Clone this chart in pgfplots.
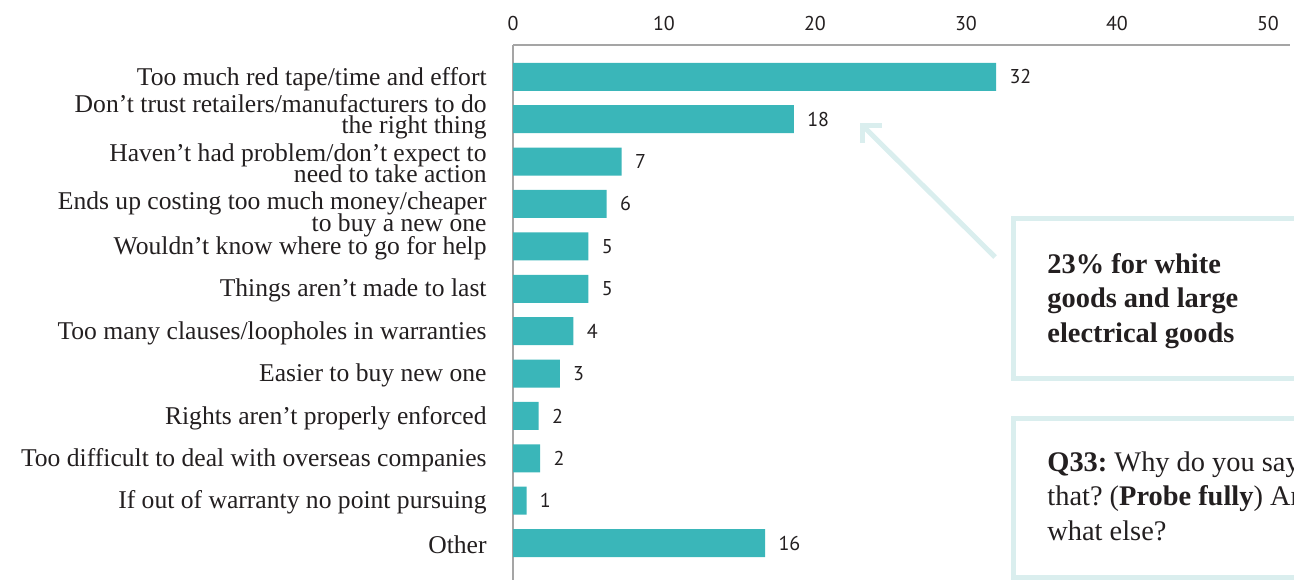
\documentclass[border=0pt]{standalone}
\usepackage{pgfplots}
\pgfplotsset{compat=1.18}
\usepackage{pgfplotstable}
\usepackage{fontspec}
\setmainfont{Liberation Serif}
\newfontfamily\numfont{PT Sans}
\definecolor{barc}{RGB}{58,182,185}
\definecolor{boxc}{RGB}{218,238,238}
\definecolor{txt}{RGB}{35,31,32}
\definecolor{axc}{RGB}{165,165,165}
\newcommand{\two}[3]{\raisebox{#3}[0pt][0pt]{\begin{tabular}[c]{@{}r@{}}#1\\[-1.2pt]#2\end{tabular}}}

\pgfplotstableread{
i v lab
0 32.0 32
1 18.6 18
2 7.2 7
3 6.2 6
4 5.0 5
5 5.0 5
6 4.0 4
7 3.1 3
8 1.7 2
9 1.8 2
10 0.9 1
11 16.7 16
}\datatable

\begin{document}
\frenchspacing
\begin{tikzpicture}
\useasboundingbox (0,0) rectangle (647pt,290pt);
\begin{axis}[
  at={(256.5pt,0pt)}, anchor=south west,
  scale only axis, width=388.5pt, height=267.5pt,
  xbar, bar width=14pt,
  xmin=0, xmax=51.46, ymin=-0.75, ymax=11.87, y dir=reverse,
  axis x line*=top, axis y line*=left,
  axis line style={axc, line width=0.75pt, -},
  major tick length=0pt,
  xtick={0,10,20,30,40,50},
  /pgf/number format/assume math mode=true,
  xticklabel style={font=\numfont\fontsize{10}{12}\selectfont, text=txt, inner sep=0pt, yshift=7pt},
  ytick={0,...,11},
  yticklabels={
    {Too much red tape/time and effort},
    {\two{Don’t trust retailers/manufacturers to do}{the right thing}{-0.9pt}},
    {\two{Haven’t had problem/don’t expect to}{need to take action}{-4.4pt}},
    {\two{Ends up costing too much money/cheaper}{to buy a new one}{-7.4pt}},
    {Wouldn’t know where to go for help},
    {Things aren’t made to last},
    {Too many clauses/loopholes in warranties},
    {Easier to buy new one},
    {Rights aren’t properly enforced},
    {Too difficult to deal with overseas companies},
    {If out of warranty no point pursuing},
    {Other}},
  yticklabel style={font=\fontsize{12.8}{10.5}\selectfont, text=txt, anchor=east, inner sep=0pt, xshift=-13pt, yshift=-1pt},
  nodes near coords={\pgfplotspointmeta},
  point meta=explicit symbolic,
  nodes near coords style={font=\numfont\fontsize{10}{12}\selectfont, text=txt, anchor=west, inner sep=0pt, xshift=6.5pt},
]
\addplot[fill=barc, draw=none] table[x=v, y=i, meta=lab] {\datatable};
\end{axis}
% callouts
\draw[boxc, line width=2.5pt] (506.5pt,181pt) rectangle (680pt,101pt);
\draw[boxc, line width=2.5pt] (506.5pt,81pt) rectangle (680pt,1.5pt);
\draw[boxc, line width=2.5pt] (497.5pt,161.5pt) -- (431pt,227.5pt);
\draw[boxc, line width=2.5pt] (441pt,227.5pt) -- (431pt,227.5pt) -- (431pt,218.5pt);
\node[anchor=north west, align=left, inner sep=0pt, text=txt, font=\fontsize{14.2}{17.25}\selectfont\bfseries] at (523.5pt,163.5pt) {23\% for white\\goods and large\\electrical goods};
\node[anchor=north west, align=left, inner sep=0pt, text=txt, font=\fontsize{14.2}{17.25}\selectfont] at (523.5pt,64.5pt) {\textbf{Q33:} Why do you say\\that? (\textbf{Probe fully}) And\\what else?};
\end{tikzpicture}
\end{document}
